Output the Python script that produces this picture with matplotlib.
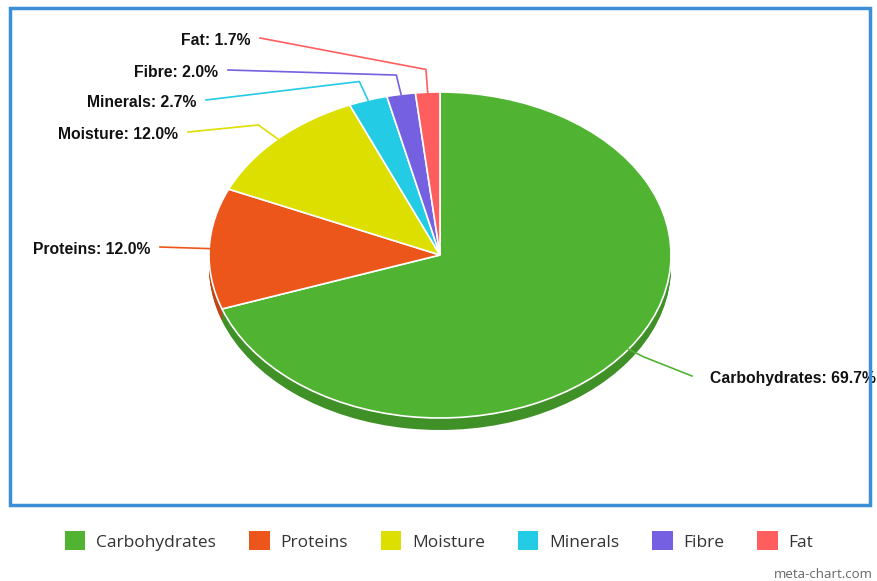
import numpy as np
import matplotlib
matplotlib.use('Agg')
import matplotlib.pyplot as plt
from matplotlib.patches import Rectangle, Patch
from matplotlib.colors import to_rgb

# data
labels = ['Carbohydrates', 'Proteins', 'Moisture', 'Minerals', 'Fibre', 'Fat']
values = [69.7, 12.0, 12.0, 2.7, 2.0, 1.7]
colors = ['#50B432', '#ED561B', '#DDDF00', '#24CBE5', '#7460E0', '#FF5E5E']

W, H = 878, 581
fig = plt.figure(figsize=(W / 100, H / 100), dpi=100)
ax = fig.add_axes([0, 0, 1, 1])

# pie geometry in pixels (center, radii), aspect left free so the circle becomes an ellipse
cx, cy = 440, 255
rx, ry = 231, 163
depth = 12

# side wall: darker pies stacked downward
dark = [tuple(c * 0.8 for c in to_rgb(col)) for col in colors]
n = 12
for k in range(n, 0, -1):
    ax.pie(values, colors=dark, startangle=90, counterclock=False,
           center=(0, -depth / ry * k / n), radius=1, frame=True,
           wedgeprops=dict(linewidth=0))
wedges, _ = ax.pie(values, colors=colors, startangle=90, counterclock=False,
                   radius=1, frame=True,
                   wedgeprops=dict(linewidth=1.2, edgecolor='white'))
ax.set_aspect('auto')
ax.set_xlim(-cx / rx, (W - cx) / rx)
ax.set_ylim(-(H - cy) / ry, cy / ry)
ax.set_axis_off()

def px(x, y):
    return (x - cx) / rx, (cy - y) / ry

# label layout (pixel positions of the text anchor)
label_pos = {
    'Carbohydrates': (710, 378, 'left'),
    'Proteins': (150, 249, 'right'),
    'Moisture': (178, 134, 'right'),
    'Minerals': (196, 102, 'right'),
    'Fibre': (218, 72, 'right'),
    'Fat': (250, 40, 'right'),
}
bend = {'Carbohydrates': 1.08, 'Proteins': 1.0, 'Moisture': 1.12,
        'Minerals': 1.12, 'Fibre': 1.12, 'Fat': 1.14}

for w, lab, v, col in zip(wedges, labels, values, colors):
    mid = np.deg2rad((w.theta1 + w.theta2) / 2)
    ex, ey = np.cos(mid), np.sin(mid)
    tx, ty, ha = label_pos[lab]
    if ha == 'left':
        gx, gy = px(tx - 18, ty - 2)
    else:
        gx, gy = px(tx + 10, ty - 2)
    b = bend[lab]
    ax.plot([gx, ex * b, ex], [gy, ey * b, ey], color=col, lw=1.2, solid_joinstyle='round')
    ax.text(*px(tx, ty), f'{lab}: {v:.1f}%', ha=ha, va='center',
            fontsize=11.3, fontweight='bold', family='Liberation Sans', color='#111111')

# frame
fig.patches.append(Rectangle((10 / W, 1 - 505 / H), 860 / W, 497 / H,
                             transform=fig.transFigure, fill=False,
                             edgecolor='#3A8FD6', linewidth=2.5))

# legend
handles = [Patch(facecolor=c, edgecolor='none') for c in colors]
fig.legend(handles, labels, loc='center', bbox_to_anchor=(0.5, 1 - 541 / H), ncol=6,
           frameon=False, handlelength=1.2, handleheight=1.3, handletextpad=0.6,
           columnspacing=1.9, prop=dict(family='Open Sans', size=12.5),
           labelcolor='#333333')

fig.text(873 / W, 1 - 575 / H, 'meta-chart.com', ha='right', va='center',
         fontsize=9.5, color='#666666', family='Open Sans')

fig.savefig('out.png', dpi=100)
